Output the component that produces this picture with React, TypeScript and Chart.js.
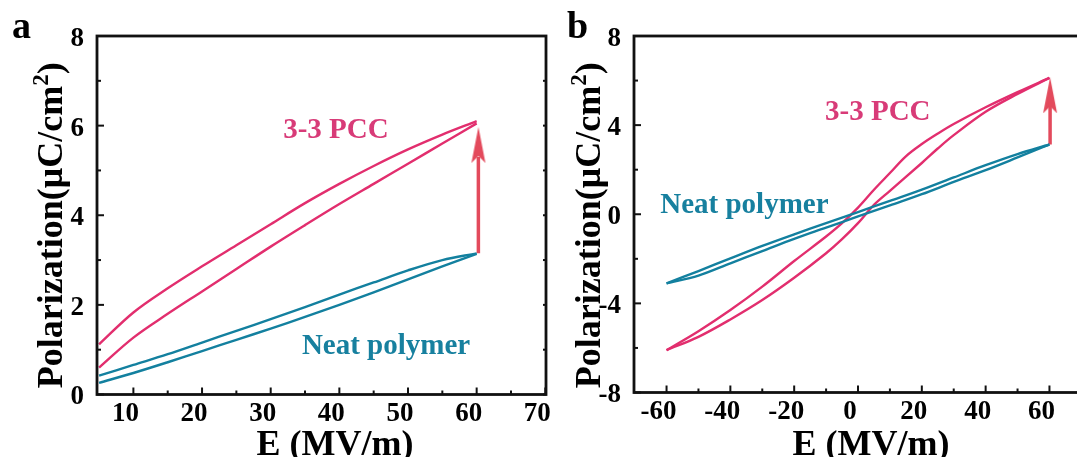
import React, { useEffect, useRef } from 'react';
import { Chart, registerables } from 'chart.js';

Chart.register(...registerables);

// ---------- Panel a data ----------
const aE = [5, 10, 15, 20, 25, 30, 35, 40, 45, 50, 55, 60];
const aPccUpper = [1.12, 1.83, 2.37, 2.86, 3.33, 3.8, 4.27, 4.7, 5.1, 5.47, 5.8, 6.1];
const aPccLower = [0.6, 1.27, 1.8, 2.3, 2.8, 3.3, 3.78, 4.25, 4.7, 5.15, 5.6, 6.05];
const aNeatUpper = [0.42, 0.66, 0.9, 1.16, 1.42, 1.68, 1.95, 2.23, 2.5, 2.77, 3.0, 3.15];
const aNeatLower = [0.26, 0.48, 0.72, 0.97, 1.22, 1.47, 1.73, 2.0, 2.28, 2.57, 2.86, 3.14];
const aArrowE = [60.25, 60.25];
const aArrowP = [3.15, 5.3];
const aArrowHeadP = 5.57;
const aXTicks = [10, 20, 30, 40, 50, 60, 70];
const aXMinor = [15, 25, 35, 45, 55, 65];
const aYTicks = [0, 2, 4, 6, 8];
const aYMinor = [1, 3, 5, 7];

// ---------- Panel b data ----------
const bEPccUpper = [-60, -50, -40, -30, -20, -10, -5, 0, 5, 10, 15, 20, 25, 30, 40, 50, 60];
const bPccUpper = [-6.1, -5.25, -4.3, -3.25, -2.1, -1.0, -0.4, 0.3, 1.1, 1.85, 2.6, 3.15, 3.62, 4.05, 4.8, 5.48, 6.12];
const bEPccLower = [-60, -50, -40, -30, -20, -10, -5, 0, 5, 10, 20, 25, 30, 40, 50, 60];
const bPccLower = [-6.1, -5.5, -4.72, -3.85, -2.85, -1.75, -1.12, -0.4, 0.42, 1.05, 2.3, 2.95, 3.55, 4.6, 5.4, 6.12];
const bENeat = [-60, -50, -40, -30, -20, -10, 0, 10, 20, 30, 40, 50, 60];
const bNeatUpper = [-3.1, -2.55, -1.98, -1.42, -0.9, -0.4, 0.1, 0.6, 1.1, 1.65, 2.2, 2.7, 3.13];
const bNeatLower = [-3.1, -2.75, -2.2, -1.65, -1.1, -0.6, -0.1, 0.4, 0.9, 1.45, 1.98, 2.55, 3.13];
const bArrowE = [60.2, 60.2];
const bArrowP = [3.13, 5.0];
const bArrowHeadP = 5.34;
const bXTicks = [-60, -40, -20, 0, 20, 40, 60];
const bXMinor = [-50, -30, -10, 10, 30, 50];
const bYTicks = [-8, -4, 0, 4, 8];
const bYMinor = [-6, -2, 2, 6];

// ---------- styles ----------
const PINK = '#e22e6e';
const TEAL = '#13809f';
const ARROW = '#e34a5c';
const PINK_TEXT = '#d83b78';
const TEAL_TEXT = '#17809f';
const FONT = '"Liberation Serif", "Times New Roman", serif';

const zip = (xs: number[], ys: number[]) => xs.map((x, i) => ({ x, y: ys[i] }));

function makeArrowHead(color: string) {
  const c = document.createElement('canvas');
  c.width = 16;
  c.height = 36;
  const g = c.getContext('2d')!;
  g.fillStyle = color;
  g.beginPath();
  g.moveTo(8, 0);
  g.lineTo(15, 36);
  g.lineTo(8, 29);
  g.lineTo(1, 36);
  g.closePath();
  g.fill();
  return c;
}

const frameTicks = {
  id: 'frameTicks',
  afterDatasetsDraw(chart: any, _a: any, o: any) {
    const { ctx, chartArea } = chart;
    const { left, right, top, bottom } = chartArea;
    const xs = chart.scales.x;
    const ys = chart.scales.y;
    ctx.save();
    ctx.strokeStyle = '#111';
    ctx.lineWidth = 2;
    const seg = (x1: number, y1: number, x2: number, y2: number) => {
      ctx.beginPath();
      ctx.moveTo(x1, y1);
      ctx.lineTo(x2, y2);
      ctx.stroke();
    };
    o.xMajor.forEach((v: number) => { const p = xs.getPixelForValue(v); seg(p, bottom, p, bottom - 7); });
    o.xMinor.forEach((v: number) => { const p = xs.getPixelForValue(v); seg(p, bottom, p, bottom - 4); });
    o.yMajor.forEach((v: number) => { const p = ys.getPixelForValue(v); seg(left, p, left + 7, p); });
    o.yMinor.forEach((v: number) => { const p = ys.getPixelForValue(v); seg(left, p, left + 4, p); });
    [...o.yMajor, ...o.yMinor].forEach((v: number) => { const p = ys.getPixelForValue(v); seg(right, p, right - 3, p); });
    ctx.lineWidth = 2.8;
    ctx.strokeRect(left, top, right - left, bottom - top);
    ctx.restore();
  },
};

const panelText = {
  id: 'panelText',
  afterDraw(chart: any, _a: any, o: any) {
    const { ctx, chartArea } = chart;
    const xs = chart.scales.x;
    const ys = chart.scales.y;
    ctx.save();
    ctx.fillStyle = '#000';
    ctx.textBaseline = 'alphabetic';
    // panel letter
    ctx.font = `bold 38px ${FONT}`;
    ctx.textAlign = 'left';
    ctx.fillText(o.letter, o.letterX, o.letterY);
    // x title
    ctx.font = `bold 36px ${FONT}`;
    ctx.textAlign = 'center';
    ctx.fillText('E (MV/m)', (chartArea.left + chartArea.right) / 2 + o.xTitleShift, o.xTitleY);
    // y title
    ctx.save();
    ctx.translate(o.yTitleX, (chartArea.top + chartArea.bottom) / 2 + o.yTitleShift);
    ctx.rotate(-Math.PI / 2);
    ctx.textAlign = 'left';
    const main = 'Polarization(\u03bcC/cm';
    ctx.font = `bold 36px ${FONT}`;
    const wMain = ctx.measureText(main).width;
    const wEnd = ctx.measureText(')').width;
    ctx.font = `bold 23px ${FONT}`;
    const wSup = ctx.measureText('2').width;
    const total = wMain + wSup + wEnd;
    let cx = -total / 2;
    ctx.font = `bold 36px ${FONT}`;
    ctx.fillText(main, cx, 0);
    cx += wMain;
    ctx.font = `bold 23px ${FONT}`;
    ctx.fillText('2', cx, -14);
    cx += wSup;
    ctx.font = `bold 36px ${FONT}`;
    ctx.fillText(')', cx, 0);
    ctx.restore();
    // annotations
    ctx.font = `bold 29px ${FONT}`;
    ctx.textAlign = 'center';
    o.notes.forEach((n: any) => {
      ctx.fillStyle = n.color;
      ctx.fillText(n.text, xs.getPixelForValue(n.x), ys.getPixelForValue(n.y));
    });
    ctx.restore();
  },
};

function lineDs(data: any[], color: string) {
  return {
    data,
    showLine: true,
    borderColor: color,
    backgroundColor: color,
    borderWidth: 2.4,
    pointRadius: 0,
    tension: 0.35,
    fill: false,
  };
}

function buildConfig(p: any) {
  const tickFont = { family: FONT, size: 27, weight: 'bold' as const };
  return {
    type: 'scatter' as const,
    data: {
      datasets: [
        lineDs(zip(p.eNeatU, p.neatU), TEAL),
        lineDs(zip(p.eNeatL, p.neatL), TEAL),
        lineDs(zip(p.ePccU, p.pccU), PINK),
        lineDs(zip(p.ePccL, p.pccL), PINK),
        {
          data: zip(p.arrowE, p.arrowP),
          showLine: true,
          borderColor: ARROW,
          borderWidth: 3.5,
          pointRadius: 0,
          tension: 0,
        },
        {
          data: [{ x: p.arrowE[0], y: p.arrowHeadP }],
          showLine: false,
          pointRadius: 5,
          pointStyle: makeArrowHead(ARROW),
        },
      ],
    },
    options: {
      animation: false,
      responsive: false,
      devicePixelRatio: 1,
      layout: { padding: { top: p.padTop, right: p.padRight, left: 0, bottom: 0 } },
      plugins: {
        legend: { display: false },
        tooltip: { enabled: false },
        frameTicks: { xMajor: p.xTicks, xMinor: p.xMinor, yMajor: p.yTicks, yMinor: p.yMinor },
        panelText: p.text,
      },
      scales: {
        x: {
          type: 'linear',
          min: p.xMin,
          max: p.xMax,
          afterBuildTicks: (s: any) => { s.ticks = p.xTicks.map((v: number) => ({ value: v })); },
          afterFit: (s: any) => { s.height = p.xAxisH; },
          grid: { display: false },
          border: { display: false },
          ticks: {
            font: tickFont,
            color: '#000',
            padding: -5,
            labelOffset: -8,
            maxRotation: 0,
            autoSkip: false,
            callback: (v: any) => String(v),
          },
        },
        y: {
          type: 'linear',
          min: p.yMin,
          max: p.yMax,
          afterBuildTicks: (s: any) => { s.ticks = p.yTicks.map((v: number) => ({ value: v })); },
          afterFit: (s: any) => { s.width = p.yAxisW; },
          grid: { display: false },
          border: { display: false },
          ticks: {
            font: tickFont,
            color: '#000',
            padding: 5,
            labelOffset: 3,
            autoSkip: false,
            callback: (v: any) => String(v),
          },
        },
      },
    },
    plugins: [frameTicks, panelText],
  };
}

const panelA = {
  eNeatU: aE, neatU: aNeatUpper, eNeatL: aE, neatL: aNeatLower,
  ePccU: aE, pccU: aPccUpper, ePccL: aE, pccL: aPccLower,
  arrowE: aArrowE, arrowP: aArrowP, arrowHeadP: aArrowHeadP,
  xTicks: aXTicks, xMinor: aXMinor, yTicks: aYTicks, yMinor: aYMinor,
  xMin: 4.7, xMax: 70.1, yMin: 0, yMax: 8,
  padTop: 36, padRight: 14, xAxisH: 62.5, yAxisW: 97,
  text: {
    letter: 'a', letterX: 12, letterY: 38,
    xTitleShift: 13.5, xTitleY: 455,
    yTitleX: 62, yTitleShift: 10,
    notes: [
      { text: '3-3 PCC', x: 39.5, y: 5.72, color: PINK_TEXT },
      { text: 'Neat polymer', x: 46.8, y: 0.9, color: TEAL_TEXT },
    ],
  },
};

const panelB = {
  eNeatU: bENeat, neatU: bNeatUpper, eNeatL: bENeat, neatL: bNeatLower,
  ePccU: bEPccUpper, pccU: bPccUpper, ePccL: bEPccLower, pccL: bPccLower,
  arrowE: bArrowE, arrowP: bArrowP, arrowHeadP: bArrowHeadP,
  xTicks: bXTicks, xMinor: bXMinor, yTicks: bYTicks, yMinor: bYMinor,
  xMin: -70.2, xMax: 70.2, yMin: -8, yMax: 8,
  padTop: 36, padRight: 14, xAxisH: 64.5, yAxisW: 74,
  text: {
    letter: 'b', letterX: 7, letterY: 38,
    xTitleShift: 13, xTitleY: 455,
    yTitleX: 40, yTitleShift: 11,
    notes: [
      { text: '3-3 PCC', x: 6.2, y: 4.25, color: PINK_TEXT },
      { text: 'Neat polymer', x: -35.6, y: 0.05, color: TEAL_TEXT },
    ],
  },
};

export default function App() {
  const refA = useRef<HTMLCanvasElement>(null);
  const refB = useRef<HTMLCanvasElement>(null);

  useEffect(() => {
    document.body.style.overflow = 'hidden';
    const ca = new Chart(refA.current!, buildConfig(panelA) as any);
    const cb = new Chart(refB.current!, buildConfig(panelB) as any);
    return () => {
      ca.destroy();
      cb.destroy();
    };
  }, []);

  return (
    <div style={{ position: 'fixed', left: 0, top: 0, width: 1077, height: 457, overflow: 'hidden', background: '#fff' }}>
      <div style={{ position: 'absolute', left: 0, top: 0 }}>
        <canvas ref={refA} width={560} height={457} />
      </div>
      <div style={{ position: 'absolute', left: 560, top: 0 }}>
        <canvas ref={refB} width={536} height={457} />
      </div>
    </div>
  );
}
